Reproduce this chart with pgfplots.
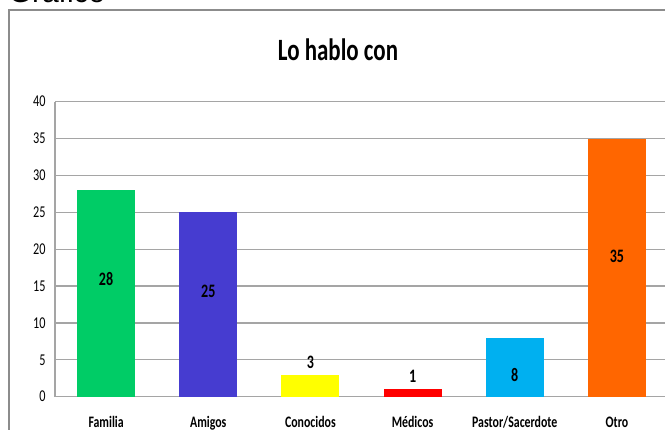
\documentclass[border=0pt]{standalone}
\usepackage{pgfplots}
\pgfplotsset{compat=1.18}
\usepackage{fontspec}
\setmainfont{Carlito}[FakeStretch=0.74]
\newfontfamily\arialfont{Liberation Sans}
\definecolor{cFam}{RGB}{0,204,102}
\definecolor{cAmi}{RGB}{70,60,208}
\definecolor{cCon}{RGB}{255,255,0}
\definecolor{cMed}{RGB}{255,0,0}
\definecolor{cPas}{RGB}{0,176,240}
\definecolor{cOtr}{RGB}{255,102,0}
\definecolor{gridc}{RGB}{165,165,165}
\definecolor{framec}{RGB}{140,140,140}
\begin{document}
\begin{tikzpicture}
\draw[framec, line width=1.5pt] (9pt,-20pt) |- (720pt,420pt);
\node[anchor=base west, inner sep=0pt, font=\arialfont\fontsize{30}{32}\selectfont] at (8.5pt,427pt) {Gráfico};
\node[anchor=center, inner sep=0pt, font=\bfseries\fontsize{31}{34}\selectfont] at (338pt,380pt) {Lo hablo con};
\begin{axis}[
  at={(55pt,33.3pt)}, anchor=south west,
  scale only axis, width=613pt, height=295pt,
  xmin=-0.5, xmax=5.5, ymin=0, ymax=40,
  ybar, bar width=58pt, bar shift=0pt,
  xtick={0,1,2,3,4,5},
  xticklabels={Familia,Amigos,Conocidos,Médicos,Pastor/Sacerdote,Otro},
  ytick={0,5,...,40},
  /pgf/number format/assume math mode=true,
  major tick length=0pt,
  ymajorgrids, grid style={draw=gridc, line width=1.3pt},
  axis lines*=left, axis line style={draw=gridc, line width=1.3pt, -},
  yticklabel style={font=\fontsize{16.5}{18}\selectfont, xshift=-6pt},
  xticklabel style={font=\bfseries\fontsize{16}{18}\selectfont, anchor=base, yshift=-31pt},
  nodes near coords align={center},
]
\addplot[fill=cFam, draw=none] coordinates {(0,28)};
\addplot[fill=cAmi, draw=none] coordinates {(1,25)};
\addplot[fill=cCon, draw=none] coordinates {(2,3)};
\addplot[fill=cMed, draw=none] coordinates {(3,1)};
\addplot[fill=cPas, draw=none] coordinates {(4,8)};
\addplot[fill=cOtr, draw=none] coordinates {(5,35)};
\addplot[sharp plot, draw=none, mark=none, point meta=explicit symbolic,
  nodes near coords, every node near coord/.append style={anchor=center, font=\bfseries\fontsize{19}{20}\selectfont, text=black}]
  coordinates {(0,15.9)[28] (1,14.3)[25] (2,4.6)[3] (3,2.8)[1] (4,3.0)[8] (5,19.0)[35]};
\end{axis}
\pgfresetboundingbox
\useasboundingbox (0,0) rectangle (665pt,430pt);
\end{tikzpicture}
\end{document}
